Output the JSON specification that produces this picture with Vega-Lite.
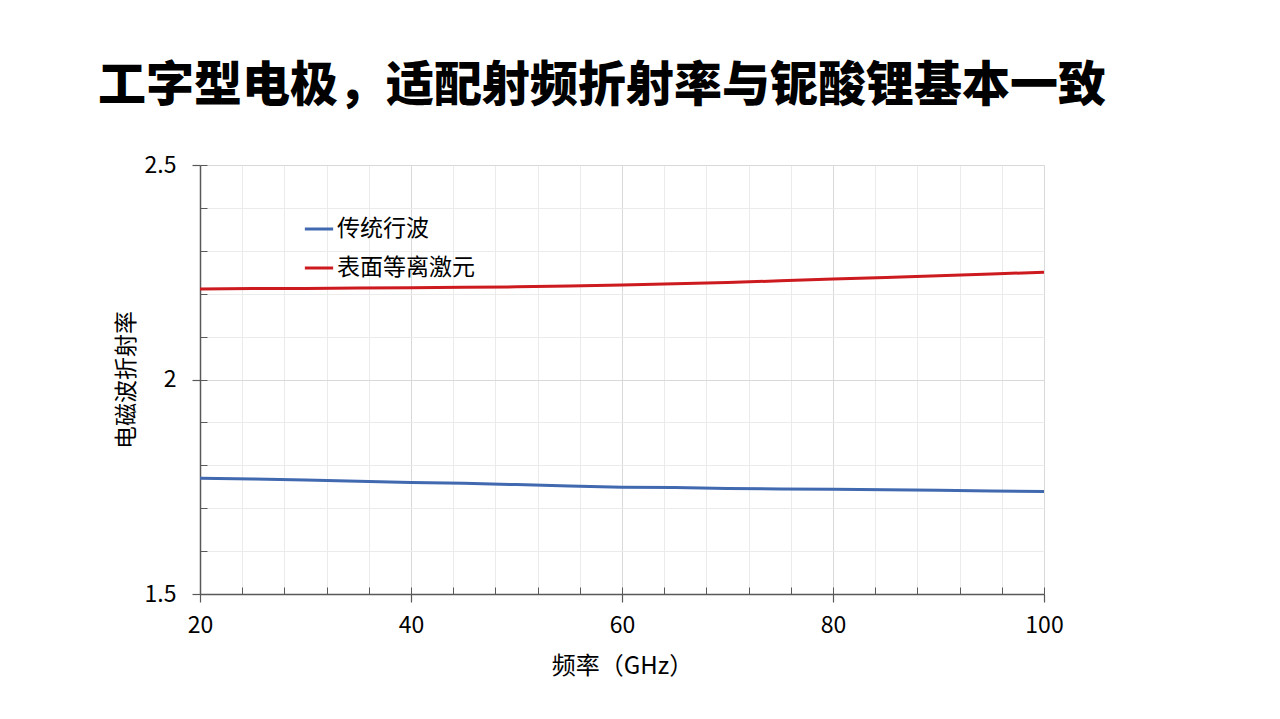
{
  "$schema": "https://vega.github.io/schema/vega-lite/v6.json",
  "width": 844,
  "height": 429,
  "autosize": {"type": "none"},
  "padding": {"left": 200, "top": 165, "right": 236, "bottom": 125},
  "background": "white",
  "title": {
    "text": "工字型电极，适配射频折射率与铌酸锂基本一致",
    "anchor": "start",
    "frame": "group",
    "font": "Noto Sans CJK SC",
    "fontSize": 48,
    "fontWeight": 900,
    "color": "#000000",
    "dx": -102,
    "dy": 45,
    "baseline": "alphabetic",
    "offset": 50
  },
  "data": {
    "values": [
      {"f": 20, "n": 2.211, "s": "表面等离激元"},
      {"f": 25, "n": 2.212, "s": "表面等离激元"},
      {"f": 30, "n": 2.212, "s": "表面等离激元"},
      {"f": 35, "n": 2.213, "s": "表面等离激元"},
      {"f": 40, "n": 2.214, "s": "表面等离激元"},
      {"f": 45, "n": 2.215, "s": "表面等离激元"},
      {"f": 50, "n": 2.216, "s": "表面等离激元"},
      {"f": 55, "n": 2.218, "s": "表面等离激元"},
      {"f": 60, "n": 2.220, "s": "表面等离激元"},
      {"f": 65, "n": 2.223, "s": "表面等离激元"},
      {"f": 70, "n": 2.226, "s": "表面等离激元"},
      {"f": 75, "n": 2.230, "s": "表面等离激元"},
      {"f": 80, "n": 2.234, "s": "表面等离激元"},
      {"f": 85, "n": 2.238, "s": "表面等离激元"},
      {"f": 90, "n": 2.242, "s": "表面等离激元"},
      {"f": 95, "n": 2.246, "s": "表面等离激元"},
      {"f": 100, "n": 2.250, "s": "表面等离激元"},
      {"f": 20, "n": 1.770, "s": "传统行波"},
      {"f": 25, "n": 1.768, "s": "传统行波"},
      {"f": 30, "n": 1.766, "s": "传统行波"},
      {"f": 35, "n": 1.763, "s": "传统行波"},
      {"f": 40, "n": 1.760, "s": "传统行波"},
      {"f": 45, "n": 1.758, "s": "传统行波"},
      {"f": 50, "n": 1.755, "s": "传统行波"},
      {"f": 55, "n": 1.752, "s": "传统行波"},
      {"f": 60, "n": 1.749, "s": "传统行波"},
      {"f": 65, "n": 1.748, "s": "传统行波"},
      {"f": 70, "n": 1.746, "s": "传统行波"},
      {"f": 75, "n": 1.745, "s": "传统行波"},
      {"f": 80, "n": 1.744, "s": "传统行波"},
      {"f": 85, "n": 1.743, "s": "传统行波"},
      {"f": 90, "n": 1.742, "s": "传统行波"},
      {"f": 95, "n": 1.740, "s": "传统行波"},
      {"f": 100, "n": 1.739, "s": "传统行波"}
    ]
  },
  "layer": [
    {
      "mark": {"type": "line", "opacity": 0},
      "encoding": {
        "x": {
          "field": "f", "type": "quantitative",
          "scale": {"domain": [20, 100], "nice": false, "zero": false},
          "axis": {
            "orient": "bottom",
            "values": [20, 24, 28, 32, 36, 40, 44, 48, 52, 56, 60, 64, 68, 72, 76, 80, 84, 88, 92, 96, 100],
            "grid": true, "gridColor": "#ebebeb", "gridWidth": 1,
            "tickSize": -7, "tickColor": "#595959", "tickWidth": 1,
            "labels": false, "domain": false, "title": null
          }
        },
        "y": {
          "field": "n", "type": "quantitative",
          "scale": {"domain": [1.5, 2.5], "nice": false, "zero": false},
          "axis": {
            "orient": "left",
            "values": [1.5, 1.6, 1.7, 1.8, 1.9, 2.0, 2.1, 2.2, 2.3, 2.4, 2.5],
            "grid": true, "gridColor": "#ebebeb", "gridWidth": 1,
            "tickSize": -7, "tickColor": "#595959", "tickWidth": 1,
            "labels": false, "domain": false, "title": null
          }
        },
        "detail": {"field": "s"}
      }
    },
    {
      "mark": {"type": "line", "strokeWidth": 3},
      "encoding": {
        "x": {
          "field": "f", "type": "quantitative",
          "scale": {"domain": [20, 100], "nice": false, "zero": false},
          "axis": {
            "orient": "bottom",
            "values": [20, 40, 60, 80, 100],
            "grid": true, "gridColor": "#d9d9d9", "gridWidth": 1,
            "tickSize": 8, "tickColor": "#595959", "tickWidth": 1.2,
            "domainColor": "#595959", "domainWidth": 1.5,
            "labelFont": "Noto Sans CJK SC", "labelFontSize": 23, "labelColor": "#000000",
            "labelPadding": 12, "labelFlush": false, "labelOverlap": false,
            "title": "频率（GHz）", "titleFont": "Noto Sans CJK SC", "titleFontSize": 24,
            "titleFontWeight": "normal", "titleColor": "#000000", "titlePadding": 17
          }
        },
        "y": {
          "field": "n", "type": "quantitative",
          "scale": {"domain": [1.5, 2.5], "nice": false, "zero": false},
          "axis": {
            "orient": "left",
            "values": [1.5, 2.0, 2.5],
            "format": "~g",
            "grid": true, "gridColor": "#d9d9d9", "gridWidth": 1,
            "tickSize": 8, "tickColor": "#595959", "tickWidth": 1.2,
            "domainColor": "#595959", "domainWidth": 1.5,
            "labelFont": "Noto Sans CJK SC", "labelFontSize": 23, "labelColor": "#000000",
            "labelPadding": 16,
            "title": "电磁波折射率", "titleFont": "Noto Sans CJK SC", "titleFontSize": 23,
            "titleFontWeight": "normal", "titleColor": "#000000", "titlePadding": 6
          }
        },
        "color": {
          "field": "s", "type": "nominal",
          "scale": {"domain": ["传统行波", "表面等离激元"], "range": ["#4169B0", "#CC1A1F"]},
          "legend": {
            "orient": "none", "legendX": 103, "legendY": 48,
            "title": null, "symbolType": "stroke", "symbolStrokeWidth": 3, "symbolSize": 800,
            "labelFont": "Noto Sans CJK SC", "labelFontSize": 23, "labelColor": "#000000",
            "labelOffset": 2, "rowPadding": 11
          }
        }
      }
    }
  ],
  "resolve": {"axis": {"x": "independent", "y": "independent"}},
  "config": {"view": {"stroke": null}}
}
